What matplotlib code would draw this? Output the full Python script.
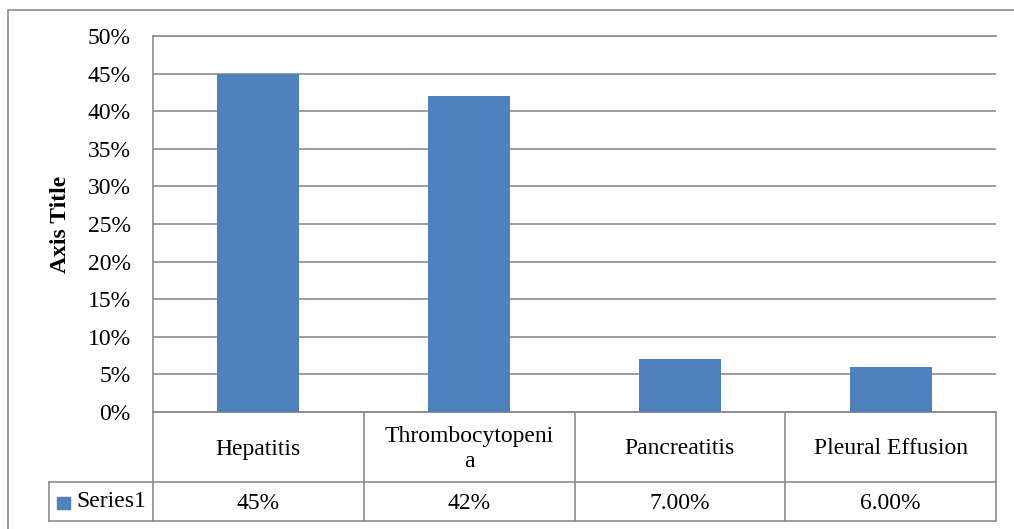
import matplotlib.pyplot as plt
import matplotlib.transforms as mtransforms
from matplotlib.patches import Rectangle
from matplotlib.ticker import FuncFormatter

# data
categories = ["Hepatitis", "Thrombocytopeni\na", "Pancreatitis", "Pleural Effusion"]
values = [0.45, 0.42, 0.07, 0.06]
table_labels = ["45%", "42%", "7.00%", "6.00%"]
series_name = "Series1"

plt.rcParams['font.family'] = ['Liberation Serif', 'DejaVu Serif']
bar_color = "#4F81BD"
line_color = "#8C8C8C"
W, H = 1014, 529
fs = 17

fig = plt.figure(figsize=(W / 100, H / 100), dpi=100)
fig.patch.set_facecolor("white")

# outer chart border
fig.patches.append(Rectangle((8 / W, -0.01), 1.02, (H - 10) / H + 0.01,
                             transform=fig.transFigure, fill=False,
                             edgecolor=line_color, linewidth=1.2))

ax = fig.add_axes([153 / W, (H - 412) / H, 843 / W, 376 / H])
x = list(range(len(categories)))
ax.bar(x, values, width=0.39, color=bar_color, zorder=3)

ax.set_xlim(-0.5, len(categories) - 0.5)
ax.set_ylim(0, 0.5)
ax.set_yticks([i * 0.05 for i in range(11)])
ax.yaxis.set_major_formatter(FuncFormatter(lambda v, p: f"{v * 100:.0f}%"))
ax.tick_params(axis='y', length=0, pad=16, labelsize=fs)
ax.set_xticks([])
ax.grid(axis='y', color=line_color, linewidth=1.2, zorder=0)
ax.spines["right"].set_visible(False)
for s in ["left", "top", "bottom"]:
    ax.spines[s].set_color(line_color)
    ax.spines[s].set_linewidth(1.2)

ax.set_ylabel("Axis Title", fontsize=fs, fontweight='bold', labelpad=12)

# data table below the plot
tr = mtransforms.blended_transform_factory(ax.transData, ax.transAxes)
row1 = -70 / 376
row2 = -109 / 376
cell_w = 843 / len(categories)
x_leg = -0.5 + (49 - 153) / cell_w
x_end = len(categories) - 0.5

kw = dict(color=line_color, linewidth=1.2, transform=tr, clip_on=False)
for xb in [i - 0.5 for i in range(len(categories) + 1)]:
    ax.plot([xb, xb], [0, row2], **kw)
ax.plot([x_leg, x_leg], [row1, row2], **kw)
ax.plot([-0.5, x_end], [0, 0], **kw)
ax.plot([x_leg, x_end], [row1, row1], **kw)
ax.plot([x_leg, x_end], [row2, row2], **kw)

for i, (cat, lab) in enumerate(zip(categories, table_labels)):
    ax.text(i, row1 / 2 - 2 / 376, cat, transform=tr, ha='center', va='center',
            fontsize=fs, linespacing=1.2)
    ax.text(i, (row1 + row2) / 2 - 2 / 376, lab, transform=tr, ha='center',
            va='center', fontsize=fs)

# legend key in the series cell
ax.add_patch(Rectangle((x_leg + 8 / cell_w, (row1 + row2) / 2 - 7 / 376),
                       13 / cell_w, 12 / 376, transform=tr,
                       color=bar_color, clip_on=False))
ax.text(x_leg + 27 / cell_w, (row1 + row2) / 2, series_name,
        transform=tr, ha='left', va='center', fontsize=fs)

fig.savefig("out.png", dpi=100)
